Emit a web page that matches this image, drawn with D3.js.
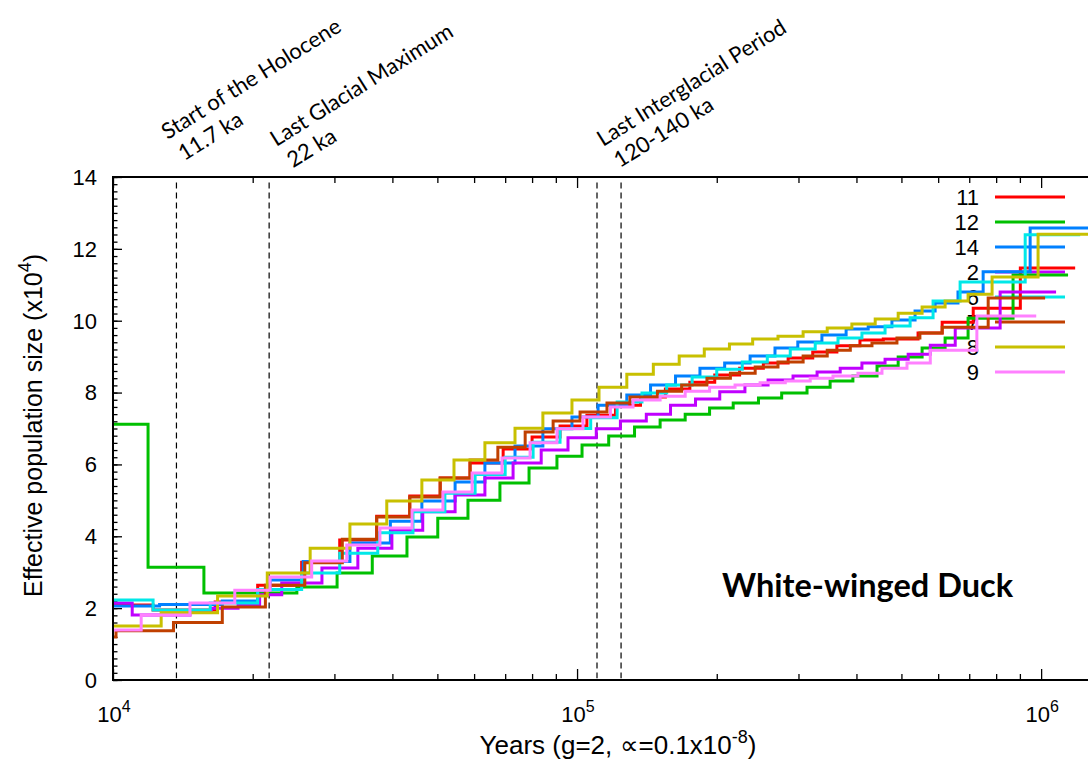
<!DOCTYPE html>
<html>
<head>
<meta charset="utf-8">
<script src="https://cdnjs.cloudflare.com/ajax/libs/d3/7.8.5/d3.min.js"></script>
<style>
  body { margin: 0; background: #fff; }
  svg { display: block; }
  .ax, .ax text { font-family: "Liberation Sans", Arial, sans-serif; }
</style>
</head>
<body>
<svg width="1088" height="763"></svg>
<script>
// PSMC steps: [start of step in years, Ne (x10^4)], last pair closes the final step
var s11 = [[10000,2.09],[12200,1.95],[16600,2.17],[20500,2.64],[25500,3.28],[30800,3.9],[37000,4.56],[43600,5.12],[50700,5.62],[58800,6.04],[69300,6.43],[80000,6.76],[91900,7.07],[105000,7.37],[121000,7.65],[137000,7.88],[155000,8.1],[175000,8.29],[198000,8.49],[224000,8.68],[252000,8.82],[285000,8.96],[322000,9.13],[363000,9.3],[407000,9.46],[457000,9.49],[543000,9.66],[612000,9.96],[714000,10.35],[902000,11.47],[1184000,11.47]];
var s12 = [[10000,7.12],[11900,3.14],[15700,2.42],[24900,2.59],[30400,2.98],[36200,3.45],[43000,3.98],[50100,4.5],[58200,5.0],[68200,5.48],[78800,5.9],[90500,6.23],[102500,6.54],[117000,6.79],[133000,7.04],[151000,7.24],[171000,7.4],[193000,7.57],[217000,7.71],[246000,7.85],[276000,7.99],[313000,8.15],[351000,8.32],[393000,8.46],[443000,8.74],[492000,8.99],[554000,9.24],[621000,9.52],[696000,10.07],[870000,11.27],[1143000,11.27]];
var s14 = [[10000,2.06],[12600,2.1],[17200,2.2],[20500,2.5],[21800,2.78],[25700,3.3],[32400,3.81],[39600,4.42],[46300,4.98],[54600,5.51],[63300,6.04],[73500,6.51],[84400,6.99],[97500,7.32],[111000,7.65],[128000,7.93],[144000,8.21],[163000,8.46],[184000,8.68],[208000,8.82],[236000,9.02],[267000,9.24],[299000,9.41],[337000,9.6],[380000,9.77],[424000,9.83],[477000,10.02],[535000,10.27],[591000,10.49],[662000,10.8],[750000,11.36],[947000,12.58],[1300000,12.58]];
var s2 = [[10000,2.14],[11000,1.81],[14650,1.92],[16300,2.0],[18600,2.1],[20700,2.37],[23100,2.7],[28200,3.12],[33700,3.67],[39900,4.17],[46500,4.68],[54600,5.15],[63300,5.62],[72800,6.04],[83700,6.4],[95600,6.74],[110000,6.99],[124000,7.21],[141000,7.4],[159000,7.65],[180000,7.82],[203000,8.02],[230000,8.21],[258000,8.35],[292000,8.46],[329000,8.57],[369000,8.68],[411000,8.82],[461000,8.93],[517000,9.07],[577000,9.32],[653000,9.8],[816000,10.8],[1077000,10.8]];
var s6 = [[10000,2.23],[12200,1.95],[16200,2.14],[20500,2.52],[25500,2.98],[30800,3.53],[37200,4.1],[44300,4.68],[51900,5.2],[60300,5.72],[70000,6.2],[80400,6.62],[91900,7.0],[107000,7.3],[122000,7.74],[138000,7.99],[156000,8.21],[177000,8.43],[200000,8.65],[227000,8.85],[257000,9.02],[288000,9.21],[326000,9.38],[365000,9.52],[411000,9.66],[461000,9.85],[522000,10.08],[585000,10.55],[669000,11.08],[924000,12.39],[1214000,12.39]];
var s7 = [[10000,1.2],[10150,1.37],[13500,1.6],[17200,2.03],[21300,2.64],[25900,3.26],[31200,3.92],[37000,4.54],[43600,5.09],[50700,5.62],[58800,6.12],[67500,6.48],[77300,6.9],[88800,7.21],[101500,7.46],[116000,7.71],[130000,7.88],[149000,8.04],[168000,8.21],[190500,8.4],[214000,8.54],[242000,8.71],[271000,8.85],[307000,9.02],[346000,9.18],[388000,9.3],[432000,9.38],[489000,9.52],[548000,9.66],[612000,9.82],[769000,10.63],[1020000,10.63]];
var s8 = [[10000,1.5],[12700,1.87],[16800,2.34],[21500,2.98],[26600,3.67],[32400,4.34],[38900,4.98],[46300,5.57],[54300,6.12],[63300,6.6],[73500,7.01],[84400,7.43],[97500,7.79],[111500,8.15],[128000,8.51],[146000,8.79],[166000,9.02],[188000,9.21],[213000,9.35],[239000,9.49],[271000,9.57],[307000,9.69],[346000,9.8],[391000,9.91],[439000,10.05],[492000,10.21],[554000,10.38],[621000,10.55],[696000,10.74],[784000,11.22],[985000,12.41],[1300000,12.41]];
var s9 = [[10000,1.39],[11500,1.81],[14650,2.14],[18300,2.5],[21800,2.87],[26800,3.31],[31900,3.76],[37600,4.23],[44100,4.73],[51400,5.23],[59400,5.76],[68900,6.18],[79200,6.6],[90500,6.99],[103000,7.32],[118000,7.6],[132000,7.79],[151000,7.9],[171000,8.04],[193000,8.15],[219000,8.21],[248000,8.27],[281000,8.32],[318000,8.4],[356000,8.46],[403000,8.54],[454000,8.68],[514000,8.82],[577000,9.18],[727000,10.13],[976000,10.13]];

var seriesNames = ["11", "12", "14", "2", "6", "7", "8", "9"];
var seriesColours = ["#ff0000", "#00c000", "#0080ff", "#c000ff", "#00e8e8", "#c04000", "#c8c000", "#ff80ff"];
var allSeries = [s11, s12, s14, s2, s6, s7, s8, s9];

var eventYears = [13700, 21700, 110400, 124400];
var eventLabels = [["Start of the Holocene", "11.7 ka"], ["Last Glacial Maximum", "22 ka"], ["Last Interglacial Period", "120-140 ka"]];
var eventLabelAt = [0, 1, 2];   // which dashed line each label hangs off

var yTicks = [0, 2, 4, 6, 8, 10, 12, 14];
var xTicks = [1e4, 1e5, 1e6];

var svg = d3.select("svg"),
    margin = {top: 177, left: 113},
    width = 981,
    height = 503;

var x = d3.scaleLog().domain([1e4, 1.3e6]).range([0, width]),
    y = d3.scaleLinear().domain([0, 14]).range([height, 0]);

var g = svg.append("g")
    .attr("transform", "translate(" + margin.left + "," + margin.top + ")");

// minor x ticks 2..9 per decade
var xMinor = [];
[1e4, 1e5, 1e6].forEach(function(p) { d3.range(2, 10).forEach(function(k) { if (k * p < 1.3e6) xMinor.push(k * p); }); });
var yMinor = d3.range(0, 71).map(function(i) { return i * 0.2; });

function tickAxis(axis, tr) {
  var a = g.append("g").attr("class", "ax").attr("transform", tr || null).call(axis);
  a.select(".domain").remove();
  a.selectAll("line").attr("stroke", "#000").attr("stroke-width", 1.3);
  a.selectAll("text").remove();
  return a;
}

tickAxis(d3.axisBottom(x).tickValues(xTicks).tickSizeInner(-11).tickFormat(""), "translate(0," + height + ")");
tickAxis(d3.axisBottom(x).tickValues(xMinor).tickSizeInner(-6).tickFormat(""), "translate(0," + height + ")");
tickAxis(d3.axisTop(x).tickValues(xTicks).tickSizeInner(-11).tickFormat(""));
tickAxis(d3.axisTop(x).tickValues(xMinor).tickSizeInner(-6).tickFormat(""));
tickAxis(d3.axisLeft(y).tickValues(yMinor).tickSizeInner(-4.5).tickFormat(""));
tickAxis(d3.axisLeft(y).tickValues(yTicks).tickSizeInner(-9).tickFormat(""));

// tick labels
g.append("g").attr("class", "ax").selectAll("text")
    .data(yTicks)
  .enter().append("text")
    .attr("x", -16)
    .attr("y", function(d) { return y(d); })
    .attr("dy", "0.36em")
    .attr("text-anchor", "end")
    .attr("font-size", 22)
    .text(function(d) { return d; });

var xl = g.append("g").attr("class", "ax").selectAll("text")
    .data(xTicks)
  .enter().append("text")
    .attr("x", function(d) { return x(d) + 1; })
    .attr("y", height + 42)
    .attr("text-anchor", "middle")
    .attr("font-size", 22);
xl.append("tspan").text("10");
xl.append("tspan").attr("dy", -10).attr("font-size", 16).text(function(d) { return Math.round(Math.log10(d)); });

// axis titles
var xt = g.append("text").attr("class", "ax")
    .attr("x", 505).attr("y", height + 74)
    .attr("text-anchor", "middle").attr("font-size", 26);
xt.append("tspan").text("Years (g=2, \u221d=0.1x10");
xt.append("tspan").attr("dy", -11).attr("font-size", 18).text("-8");
xt.append("tspan").attr("dy", 11).text(")");

var yt = g.append("text").attr("class", "ax")
    .attr("transform", "translate(-71," + (height / 2 - 3) + ") rotate(-90)")
    .attr("text-anchor", "middle").attr("font-size", 25);
yt.append("tspan").text("Effective population size (x10");
yt.append("tspan").attr("dy", -11).attr("font-size", 18).text("4");
yt.append("tspan").attr("dy", 11).text(")");

// event lines
g.selectAll(".event")
    .data(eventYears)
  .enter().append("line")
    .attr("class", "event")
    .attr("x1", function(d) { return x(d); })
    .attr("x2", function(d) { return x(d); })
    .attr("y1", y(13.85))
    .attr("y2", y(0.05))
    .attr("stroke", "#000")
    .attr("stroke-width", 1.2)
    .attr("stroke-dasharray", "6,4");

// event annotations
var ann = svg.selectAll(".ann")
    .data(eventLabels)
  .enter().append("text")
    .attr("class", "ann")
    .attr("transform", function(d, i) {
      var xs = margin.left + x(eventYears[eventLabelAt[i]]) + [-9, 7, 6][i];
      return "translate(" + xs + "," + [140, 147, 147][i] + ") rotate(-32)";
    })
    .attr("font-family", "Lato, 'Open Sans', sans-serif")
    .attr("font-size", 22)
    .attr("fill", "#000");
ann.append("tspan").attr("x", 0).attr("y", 0).text(function(d) { return d[0]; });
ann.append("tspan").attr("x", 3).attr("y", 27).text(function(d) { return d[1]; });

// legend
var leg = g.selectAll(".legend")
    .data(seriesNames)
  .enter().append("g")
    .attr("class", "legend ax")
    .attr("transform", function(d, i) { return "translate(0," + (20 + i * 25) + ")"; });
leg.append("text")
    .attr("x", 866).attr("dy", "0.36em")
    .attr("text-anchor", "end").attr("font-size", 22)
    .text(function(d) { return d; });
leg.append("line")
    .attr("x1", 882).attr("x2", 952)
    .attr("stroke", function(d, i) { return seriesColours[i]; })
    .attr("stroke-width", 3);

// step lines
var line = d3.line()
    .x(function(d) { return x(d[0]); })
    .y(function(d) { return y(d[1]); })
    .curve(d3.curveStepAfter);

g.selectAll(".series")
    .data(allSeries)
  .enter().append("path")
    .attr("class", "series")
    .attr("d", line)
    .attr("fill", "none")
    .attr("stroke", function(d, i) { return seriesColours[i]; })
    .attr("stroke-width", 3)
    .attr("stroke-linejoin", "miter");

// frame
g.append("rect")
    .attr("width", width).attr("height", height)
    .attr("fill", "none").attr("stroke", "#000").attr("stroke-width", 2);

svg.append("text")
    .attr("x", 722).attr("y", 597)
    .attr("font-family", "Lato, 'Open Sans', sans-serif")
    .attr("font-weight", "bold")
    .attr("font-size", 32.5)
    .text("White-winged Duck");
</script>
</body>
</html>
